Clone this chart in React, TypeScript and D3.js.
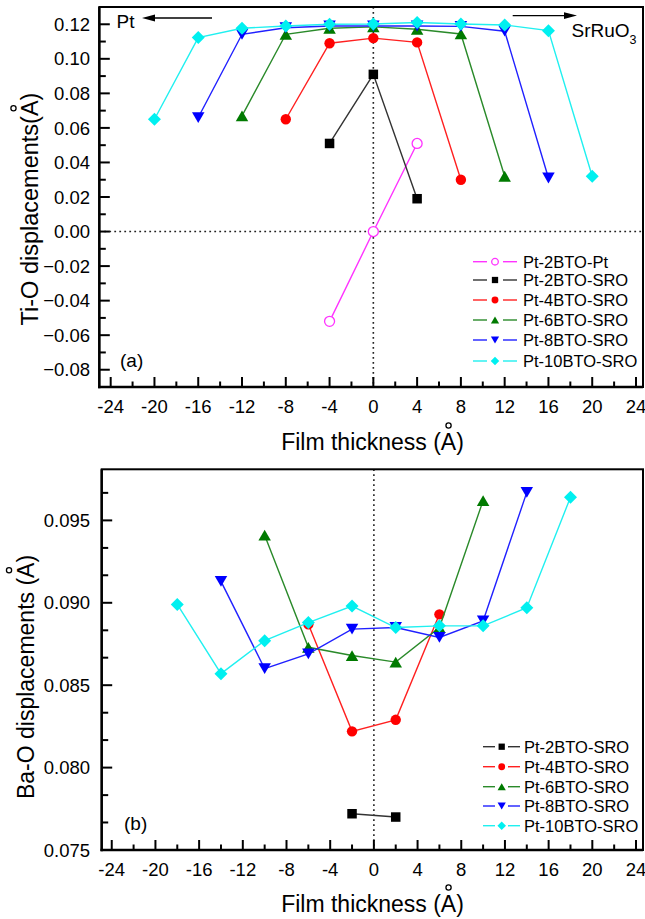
import React, { useEffect, useRef } from "react";
import * as d3 from "d3";

const FONT = "'Liberation Sans', Arial, Helvetica, sans-serif";

// ---------- ticks ----------
const xMajorTicks = [-24, -20, -16, -12, -8, -4, 0, 4, 8, 12, 16, 20, 24];
const xMinorTicks = [-22, -18, -14, -10, -6, -2, 2, 6, 10, 14, 18, 22];
const tiYMajorTicks = [-0.08, -0.06, -0.04, -0.02, 0, 0.02, 0.04, 0.06, 0.08, 0.1, 0.12];
const tiYMinorTicks = [-0.07, -0.05, -0.03, -0.01, 0.01, 0.03, 0.05, 0.07, 0.09, 0.11];
const baYMajorTicks = [0.075, 0.08, 0.085, 0.09, 0.095];
const baYMinorTicks = [0.07667, 0.07833, 0.08167, 0.08333, 0.08667, 0.08833, 0.09167, 0.09333, 0.09667];

// ---------- series names / styles ----------
const seriesNames = ["Pt-2BTO-Pt", "Pt-2BTO-SRO", "Pt-4BTO-SRO", "Pt-6BTO-SRO", "Pt-8BTO-SRO", "Pt-10BTO-SRO"];
const seriesColors = ["#ff33ff", "#000000", "#ff0000", "#007a00", "#0000ff", "#00f0f0"];
const seriesLineColors = ["#ff33ff", "#333333", "#ff2020", "#2a8a2a", "#2020ff", "#20f0f0"];
const seriesMarkers = ["circleOpen", "square", "circle", "triUp", "triDown", "diamond"];

// ---------- (a) Ti-O displacements ----------
const ti_Pt2BTOPt_x = [-4, 0, 4];
const ti_Pt2BTOPt_y = [-0.052, 0.0, 0.051];
const ti_Pt2BTO_x = [-4, 0, 4];
const ti_Pt2BTO_y = [0.051, 0.091, 0.019];
const ti_Pt4BTO_x = [-8, -4, 0, 4, 8];
const ti_Pt4BTO_y = [0.065, 0.109, 0.112, 0.1095, 0.030];
const ti_Pt6BTO_x = [-12, -8, -4, 0, 4, 8, 12];
const ti_Pt6BTO_y = [0.067, 0.1142, 0.1177, 0.1185, 0.1171, 0.1144, 0.032];
const ti_Pt8BTO_x = [-16, -12, -8, -4, 0, 4, 8, 12, 16];
const ti_Pt8BTO_y = [0.066, 0.1142, 0.118, 0.119, 0.119, 0.119, 0.1188, 0.116, 0.031];
const ti_Pt10BTO_x = [-20, -16, -12, -8, -4, 0, 4, 8, 12, 16, 20];
const ti_Pt10BTO_y = [0.065, 0.1123, 0.1177, 0.119, 0.120, 0.1202, 0.121, 0.1202, 0.1196, 0.1163, 0.032];

// ---------- (b) Ba-O displacements ----------
const ba_Pt2BTO_x = [-2, 2];
const ba_Pt2BTO_y = [0.0772, 0.0770];
const ba_Pt4BTO_x = [-6, -2, 2, 6];
const ba_Pt4BTO_y = [0.0887, 0.0822, 0.0829, 0.0893];
const ba_Pt6BTO_x = [-10, -6, -2, 2, 6, 10];
const ba_Pt6BTO_y = [0.0941, 0.0873, 0.0868, 0.0864, 0.0885, 0.0962];
const ba_Pt8BTO_x = [-14, -10, -6, -2, 2, 6, 10, 14];
const ba_Pt8BTO_y = [0.0913, 0.0860, 0.0869, 0.0884, 0.0885, 0.0879, 0.0889, 0.0967];
const ba_Pt10BTO_x = [-18, -14, -10, -6, -2, 2, 6, 10, 14, 18];
const ba_Pt10BTO_y = [0.0899, 0.0857, 0.0877, 0.0888, 0.0898, 0.0885, 0.0886, 0.0886, 0.0897, 0.0964];

type Series = { name: string; xs: number[]; ys: number[]; color: string; line: string; marker: string };

const mk = (i: number, xs: number[], ys: number[]): Series => ({
  name: seriesNames[i],
  xs,
  ys,
  color: seriesColors[i],
  line: seriesLineColors[i],
  marker: seriesMarkers[i],
});

const tiSeries: Series[] = [
  mk(0, ti_Pt2BTOPt_x, ti_Pt2BTOPt_y),
  mk(1, ti_Pt2BTO_x, ti_Pt2BTO_y),
  mk(2, ti_Pt4BTO_x, ti_Pt4BTO_y),
  mk(3, ti_Pt6BTO_x, ti_Pt6BTO_y),
  mk(4, ti_Pt8BTO_x, ti_Pt8BTO_y),
  mk(5, ti_Pt10BTO_x, ti_Pt10BTO_y),
];
const baSeries: Series[] = [
  mk(1, ba_Pt2BTO_x, ba_Pt2BTO_y),
  mk(2, ba_Pt4BTO_x, ba_Pt4BTO_y),
  mk(3, ba_Pt6BTO_x, ba_Pt6BTO_y),
  mk(4, ba_Pt8BTO_x, ba_Pt8BTO_y),
  mk(5, ba_Pt10BTO_x, ba_Pt10BTO_y),
];

function Marker({ type, color, x, y, k = 1 }: { type: string; color: string; x: number; y: number; k?: number }) {
  const t = `translate(${x},${y})`;
  if (type === "circleOpen")
    return <circle transform={t} r={5 * k} fill="#fff" stroke={color} strokeWidth={1.3} />;
  if (type === "square") {
    const s = 9.5 * k;
    return <rect transform={t} x={-s / 2} y={-s / 2} width={s} height={s} fill={color} />;
  }
  if (type === "circle") return <circle transform={t} r={5.2 * k} fill={color} />;
  if (type === "triUp") {
    const w = 12.5 * k, h = 10.8 * k;
    return <path transform={t} d={`M0,${-h / 2}L${w / 2},${h / 2}L${-w / 2},${h / 2}Z`} fill={color} />;
  }
  if (type === "triDown") {
    const w = 12.5 * k, h = 10.8 * k;
    return <path transform={t} d={`M0,${h / 2}L${w / 2},${-h / 2}L${-w / 2},${-h / 2}Z`} fill={color} />;
  }
  const r = 6.5 * k;
  return <path transform={t} d={`M0,${-r}L${r},0L0,${r}L${-r},0Z`} fill={color} />;
}

type PanelProps = {
  left: number; top: number; right: number; bottom: number;
  xDomain: [number, number]; yDomain: [number, number];
  yMajor: number[]; yMinor: number[]; yFmt: (v: number) => string;
  series: Series[];
  legendRows: number[]; legendSeg: [number, number, number, number, number]; legendTextX: number;
  yTitle: string; yTitleX: number; yTitleY: number; yTitleSize: number;
  xTitleY: number;
  hDotted: boolean;
  tag: string; tagX: number; tagY: number;
};

function Panel(p: PanelProps) {
  const x = d3.scaleLinear().domain(p.xDomain).range([p.left, p.right]);
  const y = d3.scaleLinear().domain(p.yDomain).range([p.bottom, p.top]);
  const line = d3
    .line<[number, number]>()
    .x((d) => x(d[0]))
    .y((d) => y(d[1]));
  const [s0, s1, mx, s2, s3] = p.legendSeg;
  return (
    <g>
      {/* dotted reference lines */}
      {p.hDotted && (
        <line x1={p.left} x2={p.right} y1={y(0)} y2={y(0)} stroke="#222" strokeWidth={1.6} strokeDasharray="1.8,3.2" />
      )}
      <line x1={x(0)} x2={x(0)} y1={p.top} y2={p.bottom} stroke="#222" strokeWidth={1.6} strokeDasharray="1.8,3.2" />

      {/* series */}
      {p.series.map((s, i) => {
        const pts = s.xs.map((v, j) => [v, s.ys[j]] as [number, number]);
        return (
          <g key={i}>
            <path d={line(pts) || ""} fill="none" stroke={s.line} strokeWidth={1.4} />
            {pts.map((d, j) => (
              <Marker key={j} type={s.marker} color={s.color} x={x(d[0])} y={y(d[1])} />
            ))}
          </g>
        );
      })}

      {/* frame */}
      <rect x={p.left} y={p.top} width={p.right - p.left} height={p.bottom - p.top} fill="none" stroke="#000" strokeWidth={2} />
      <line x1={p.left} x2={p.left} y1={p.top} y2={p.bottom + 1.2} stroke="#000" strokeWidth={2.4} />
      <line x1={p.left - 1.2} x2={p.right} y1={p.bottom} y2={p.bottom} stroke="#000" strokeWidth={2.4} />

      {/* x ticks */}
      {xMajorTicks.map((t) => (
        <g key={"xm" + t}>
          <line x1={x(t)} x2={x(t)} y1={p.bottom} y2={p.bottom - 10} stroke="#000" strokeWidth={2} />
          <text x={x(t)} y={p.bottom + 26} textAnchor="middle" fontSize={18.5} fontFamily={FONT}>
            {t}
          </text>
        </g>
      ))}
      {xMinorTicks.map((t) => (
        <line key={"xn" + t} x1={x(t)} x2={x(t)} y1={p.bottom} y2={p.bottom - 5.5} stroke="#000" strokeWidth={2} />
      ))}

      {/* y ticks */}
      {p.yMajor.map((t) => (
        <g key={"ym" + t}>
          <line x1={p.left} x2={p.left + 10.5} y1={y(t)} y2={y(t)} stroke="#000" strokeWidth={2} />
          <text x={90} y={y(t)} dy="0.36em" textAnchor="end" fontSize={18.5} fontFamily={FONT}>
            {p.yFmt(t)}
          </text>
        </g>
      ))}
      {p.yMinor.map((t) => (
        <line key={"yn" + t} x1={p.left} x2={p.left + 6.5} y1={y(t)} y2={y(t)} stroke="#000" strokeWidth={2} />
      ))}

      {/* axis titles */}
      <text className="ring-host" x={372.5} y={p.xTitleY} textAnchor="middle" fontSize={23} fontFamily={FONT}>
        Film thickness (A)
      </text>
      <g transform={`translate(${p.yTitleX},${p.yTitleY}) rotate(-90)`}>
        <text className="ring-host" x={0} y={0} textAnchor="middle" fontSize={p.yTitleSize} fontFamily={FONT}>
          {p.yTitle}
        </text>
      </g>

      {/* panel tag */}
      <text x={p.tagX} y={p.tagY} fontSize={19} fontFamily={FONT}>
        {p.tag}
      </text>

      {/* legend */}
      {p.series.map((s, i) => {
        const ry = p.legendRows[i];
        return (
          <g key={"lg" + i}>
            <line x1={s0} x2={s1} y1={ry} y2={ry} stroke={s.line} strokeWidth={1.4} />
            <line x1={s2} x2={s3} y1={ry} y2={ry} stroke={s.line} strokeWidth={1.4} />
            <Marker type={s.marker} color={s.color} x={mx} y={ry} k={0.66} />
            <text x={p.legendTextX} y={ry + 6} fontSize={16.5} fontFamily={FONT}>
              {s.name}
            </text>
          </g>
        );
      })}
    </g>
  );
}

export default function App() {
  const ref = useRef<SVGSVGElement>(null);

  useEffect(() => {
    if (!ref.current) return;
    const svg = d3.select(ref.current);
    svg.selectAll("circle.ring").remove();
    svg.selectAll<SVGTextElement, unknown>("text.ring-host").each(function () {
      const t = this as SVGTextElement;
      const s = t.textContent || "";
      const i = s.lastIndexOf("A");
      if (i < 0) return;
      const ext = t.getExtentOfChar(i);
      const fs = parseFloat(t.getAttribute("font-size") || "20");
      const base = parseFloat(t.getAttribute("y") || "0");
      const cx = ext.x + ext.width / 2;
      const cy = base - 0.716 * fs - 8;
      d3.select(t.parentNode as SVGGElement)
        .append("circle")
        .attr("class", "ring")
        .attr("cx", cx)
        .attr("cy", cy)
        .attr("r", 2.6)
        .attr("fill", "none")
        .attr("stroke", "#000")
        .attr("stroke-width", 1.3);
    });
  }, []);

  return (
    <svg
      ref={ref}
      width={645}
      height={919}
      style={{ position: "absolute", left: 0, top: 0, background: "#fff" }}
      fontFamily={FONT}
    >
      <rect x={0} y={0} width={645} height={919} fill="#fff" />
      <Panel
        left={99.3}
        top={7}
        right={643}
        bottom={387}
        xDomain={[-25.04, 24.64]}
        yDomain={[-0.09, 0.13]}
        yMajor={tiYMajorTicks}
        yMinor={tiYMinorTicks}
        yFmt={d3.format(".2f")}
        series={tiSeries}
        legendRows={[261.7, 280, 300, 320, 340, 361]}
        legendSeg={[473, 487, 495, 503, 517]}
        legendTextX={523}
        yTitle="Ti-O displacements(A)"
        yTitleX={38.3}
        yTitleY={209}
        yTitleSize={23.5}
        xTitleY={450}
        hDotted={true}
        tag="(a)"
        tagX={120}
        tagY={367}
      />
      <Panel
        left={101.7}
        top={469.3}
        right={643}
        bottom={850}
        xDomain={[-24.92, 24.64]}
        yDomain={[0.075, 0.0981]}
        yMajor={baYMajorTicks}
        yMinor={baYMinorTicks}
        yFmt={d3.format(".3f")}
        series={baSeries}
        legendRows={[746.7, 766.7, 786.7, 806, 825.7]}
        legendSeg={[483, 495, 501.7, 508, 520]}
        legendTextX={524}
        yTitle="Ba-O displacements (A)"
        yTitleX={33.5}
        yTitleY={677}
        yTitleSize={23}
        xTitleY={912}
        hDotted={false}
        tag="(b)"
        tagX={124}
        tagY={830}
      />

      {/* annotations in panel (a) */}
      <text x={116.5} y={28.3} fontSize={19} fontFamily={FONT}>
        Pt
      </text>
      <line x1={212} x2={152} y1={18} y2={18} stroke="#000" strokeWidth={1.4} />
      <path d="M142,18L155,14.6L155,21.4Z" fill="#000" />

      <line x1={512.7} x2={566} y1={15.6} y2={15.6} stroke="#000" strokeWidth={1.4} />
      <path d="M577,15.6L564,12.2L564,19Z" fill="#000" />
      <text x={571.5} y={36.7} fontSize={19} fontFamily={FONT}>
        SrRuO
        <tspan fontSize={12.5} dy={7.5}>
          3
        </tspan>
      </text>
    </svg>
  );
}
